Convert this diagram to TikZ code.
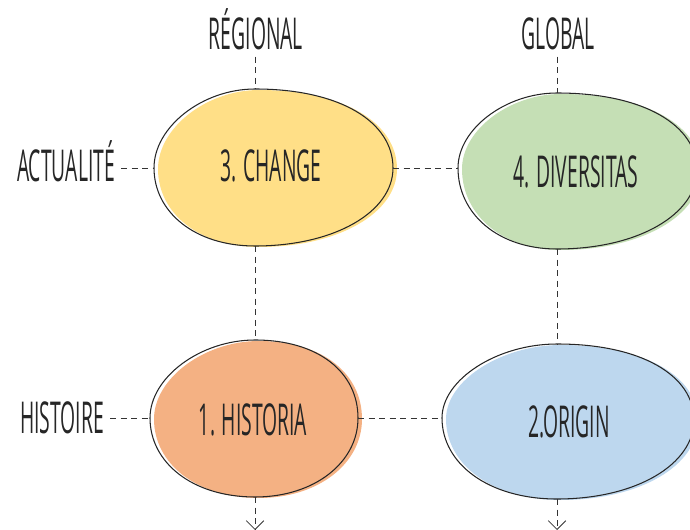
\documentclass[tikz,border=0pt]{standalone}
\usepackage{fontspec}
\newfontfamily\handfont[FakeStretch=0.44]{Open Sans}
\usetikzlibrary{arrows.meta,calc}

\definecolor{chgfill}{HTML}{FFDF87}
\definecolor{divfill}{HTML}{C5DFB5}
\definecolor{hisfill}{HTML}{F4B183}
\definecolor{orifill}{HTML}{BDD7EE}

% egg outline through top, right, bottom, left points
\newcommand{\eggpath}[4]{(#1)
	.. controls ($(#1)!0.62!(#1 -| #2)$) and ($(#2)!0.58!(#2 |- #1)$) .. (#2)
	.. controls ($(#2)!0.56!(#2 |- #3)$) and ($(#3)!0.58!(#3 -| #2)$) .. (#3)
	.. controls ($(#3)!0.60!(#3 -| #4)$) and ($(#4)!0.56!(#4 |- #3)$) .. (#4)
	.. controls ($(#4)!0.52!(#4 |- #1)$) and ($(#1)!0.52!(#1 -| #4)$) .. (#1) -- cycle}

\begin{document}
\begin{tikzpicture}[x=0.02cm, y=-0.02cm, font=\handfont\fontsize{25}{30}\selectfont,
		lbl/.style={anchor=base, text=black!85},
		link/.style={draw=black!80, line width=0.5pt, dash pattern=on 3.5pt off 2.5pt},
		outline/.style={draw=black!85, line width=0.6pt},
		offset/.style={transform canvas={shift={(4,1)}}}]
	\useasboundingbox (0,0) rectangle (690,530);

	% egg points
	\coordinate (chgT) at (255,89);  \coordinate (chgR) at (393,168);
	\coordinate (chgB) at (255,246); \coordinate (chgL) at (154,168);
	\coordinate (divT) at (557,93);  \coordinate (divR) at (697,170);
	\coordinate (divB) at (557,249); \coordinate (divL) at (458,168);
	\coordinate (hisT) at (255,340); \coordinate (hisR) at (358,418);
	\coordinate (hisB) at (255,497); \coordinate (hisL) at (150,418);
	\coordinate (oriT) at (557,344); \coordinate (oriR) at (694,420);
	\coordinate (oriB) at (557,499); \coordinate (oriL) at (442,418);
	\coordinate (hisEnd) at (255,530);
	\coordinate (oriEnd) at (557,530);

	% eggs
	\fill[chgfill, offset] \eggpath{chgT}{chgR}{chgB}{chgL};
	\fill[divfill, offset] \eggpath{divT}{divR}{divB}{divL};
	\fill[hisfill, offset] \eggpath{hisT}{hisR}{hisB}{hisL};
	\fill[orifill, offset] \eggpath{oriT}{oriR}{oriB}{oriL};
	\draw[outline] \eggpath{chgT}{chgR}{chgB}{chgL};
	\draw[outline] \eggpath{divT}{divR}{divB}{divL};
	\draw[outline] \eggpath{hisT}{hisR}{hisB}{hisL};
	\draw[outline] \eggpath{oriT}{oriR}{oriB}{oriL};

	% texts
	\node[lbl] (reg) at (256,50)  {RÉGIONAL};
	\node[lbl] (glo) at (558,50)  {GLOBAL};
	\node[lbl] (act) at (66,182)  {ACTUALITÉ};
	\node[lbl] (hst) at (62,433)  {HISTOIRE};
	\node[lbl] (chg) at (271,182) {3. CHANGE};
	\node[lbl] (div) at (576,188) {4. DIVERSITAS};
	\node[lbl] (his) at (253,435) {1. HISTORIA};
	\node[lbl] (ori) at (569,438) {2.ORIGIN};

	% dashed links
	\path[link]	(reg.south -| chgT) edge (chgT)
			(glo.south -| divT) edge (divT)
			(act.east |- chgL) edge (chgL)
			(hst.east |- hisL) edge (hisL)
			(chgR) edge (divL)
			(hisR) edge (oriL)
			(chgB) edge (hisT)
			(divB) edge (oriT);
	\draw[link, -{Straight Barb[length=5pt,width=10pt]}] (hisB) -- (hisEnd);
	\draw[link, -{Straight Barb[length=5pt,width=10pt]}] (oriB) -- (oriEnd);
\end{tikzpicture}
\end{document}
